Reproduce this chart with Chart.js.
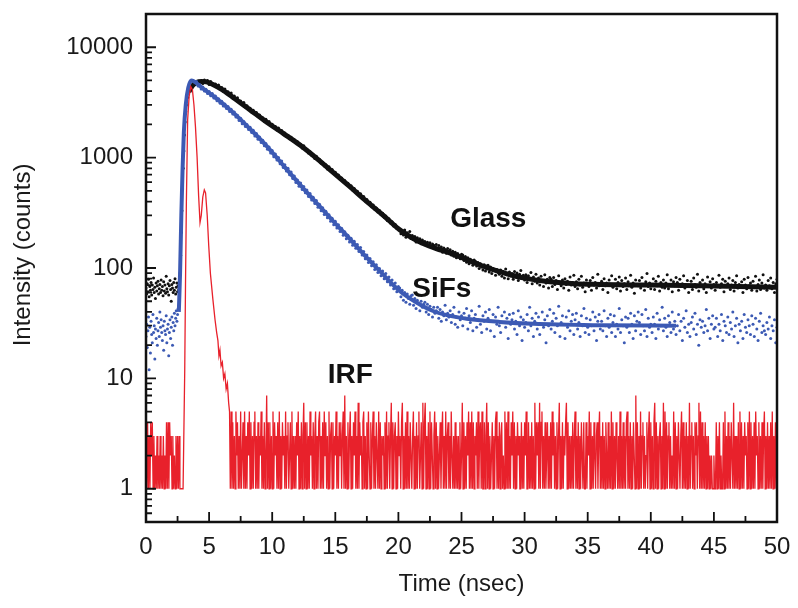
<!DOCTYPE html>
<html lang="en">
<head>
  <meta charset="UTF-8">
  <title>Fluorescence decay: Glass vs SiFs</title>
  <script src="https://cdn.jsdelivr.net/npm/chart.js"></script>
  <style>
    body { margin: 0; background: #fff; }
    canvas { display: block; }
  </style>
</head>
<body>
  <canvas id="decay" width="798" height="608"></canvas>

  <script>
    // ---- data (time in ns, intensity in counts) ----
    const xTickValues = [0, 5, 10, 15, 20, 25, 30, 35, 40, 45, 50];
    const yTickValues = [1, 10, 100, 1000, 10000];

    // IRF: detector channels every 0.0625 ns before and after the pulse
    const irfStep = 0.0625;
    const irfPre = [
      4,1,4,1,3,1,4,2,4,1, 3,1,2,1,3,1,2,1,3,1, 2,1,3,1,2,1, 4,1,4,1,4,2,
      3,1,3,1,2,1,3,1,3,1, 3,1,1,1,1,1
    ];
    const irfPulse = [
      [3.0,1],[3.07,12],[3.13,70],[3.2,400],[3.3,2200],[3.42,3600],[3.55,4400],[3.68,4100],
      [3.8,3000],[3.92,1900],[4.05,1000],[4.17,450],[4.28,258],[4.38,300],[4.5,440],[4.62,510],
      [4.72,480],[4.85,300],[4.97,160],[5.1,90],[5.3,52],[5.47,34],[5.6,26],[5.7,22],[5.78,16],
      [5.86,18],[5.95,13],[6.05,14],[6.15,10],[6.25,11],[6.35,8],[6.45,9],[6.55,6],[6.62,5],[6.68,1]
    ];
    const irfNoiseStart = 6.75;
    const irfNoise = [
      5,1,4,1,3,1,5,2,4,1,3,1,5,1,2,4, 1,5,1,3,1,4,2,5,1,4,1,3,1,4,5,1,
      3,1,4,1,3,2,5,1,3,1,4,1,2,7,1,4, 1,4,1,3,1,5,1,4,2,3,1,4,1,5,1,3,
      1,4,2,3,1,5,1,3,4,1,2,4,1,5,1,3, 1,3,1,4,2,5,1,3,1,4,1,3,6,1,4,1,
      4,1,3,1,5,2,3,1,4,1,3,5,1,3,1,4, 5,1,3,1,4,1,5,2,4,1,3,1,5,1,3,4,
      1,4,1,3,2,5,1,3,1,4,2,4,1,3,5,1, 7,1,3,1,4,1,3,5,1,3,1,4,2,5,1,3,
      1,6,1,4,2,3,1,4,5,1,3,1,4,1,5,2, 1,4,1,3,5,1,3,1,4,2,1,5,1,4,1,3,
      2,3,1,4,1,5,1,3,4,1,3,6,1,4,1,3, 4,1,3,1,5,2,3,1,4,6,1,3,1,4,1,5,
      1,3,1,4,2,1,3,5,1,3,1,4,1,3,5,1, 2,4,1,6,1,4,6,1,3,1,4,1,5,1,4,2,
      1,3,5,1,4,1,3,1,2,4,1,3,5,1,3,1, 5,1,3,4,1,3,1,5,2,1,3,1,4,1,3,1,
      3,1,4,1,2,6,1,4,1,3,1,4,2,5,1,4, 1,5,1,4,1,3,2,4,1,5,1,3,4,1,5,1,
      1,4,1,3,6,1,4,1,3,1,2,4,1,3,1,4, 5,1,3,1,4,1,3,4,1,2,1,5,1,4,1,5,
      1,3,1,4,2,5,1,4,1,3,1,4,2,3,1,1, 4,1,3,1,4,2,5,1,1,4,1,3,1,4,1,3,
      1,6,1,4,2,4,1,6,1,4,5,1,3,1,4,1, 2,4,1,3,1,4,1,5,2,4,1,3,1,4,1,3,
      6,1,3,1,4,1,3,2,4,6,1,4,1,3,1,3, 1,4,1,3,5,1,3,1,4,1,3,1,4,2,1,4,
      1,1,4,1,3,2,5,1,4,1,3,1,4,2,1,3, 4,1,3,5,1,3,1,4,1,3,1,4,2,1,4,1,
      3,1,5,1,4,1,3,1,4,2,1,3,1,5,1,3, 1,4,1,3,1,4,5,1,3,1,4,1,3,1,4,2,
      1,7,1,4,1,3,1,5,1,3,4,1,3,1,2,4, 1,3,5,1,4,1,3,1,4,6,1,4,1,3,1,3,
      4,1,3,1,6,1,5,1,4,1,3,4,1,3,1,2, 1,5,1,4,1,3,1,4,2,1,3,5,1,4,1,3,
      1,4,1,3,1,6,1,3,4,1,3,1,4,2,4,1, 3,6,1,5,1,4,1,3,1,4,1,3,1,3,1,2,
      1,2,1,1,2,1,1,4,1,3,1,4,1,2,1,1, 4,1,5,1,3,1,4,1,3,1,4,2,1,6,1,3,
      1,3,1,4,1,5,1,4,1,3,1,4,2,3,1,4, 1,5,1,4,1,3,1,4,1,5,2,3,1,4,1,3,
      1,4,1,3,5,1,3,1,4,1,3,1,4,1,5,1, 3,1,4,1,3
    ];

    // Glass: measured points and the fitted decay
    const glassPreStep = 0.05;
    const glassPre = [
      66,58,72,61,79,55,68,63,74,57,70,64,81,60,67,53,73,62,69,76,58,65,71,60,78,63,68,
      56,75,62,70,59,84,65,61,72,57,69,77,64,50,71,66,60,74,63,80,58,67,73,61,69,64,75
    ];
    const glassRise = [
      [2.7,90],[2.75,130],[2.8,210],[2.85,330],[2.9,520],[2.95,800],[3.0,1150],[3.05,1600],
      [3.1,2100],[3.15,2600],[3.2,3000],[3.3,3500],[3.4,3950]
    ];
    const glassFit = [
      [3.4,3950],[3.7,4500],[4.0,4800],[4.4,4900],[4.8,4850],[5.3,4600],[6.0,4150],[6.9,3510],
      [8.2,2730],[9.6,2080],[10.9,1650],[12.2,1300],[13.5,990],[14.8,740],[16.2,540],[17.5,400],
      [18.8,300],[20.1,222],[21,190],[22,166],[23,150],[24,138],[25,125],[26,112],[27,101],
      [28,93],[29,86],[30,81],[32,75],[34,72],[36,71],[40,70],[44,69],[47,68],[50,67]
    ];
    const glassMidStart = 4.5, glassMidStep = 0.125;
    const glassMid = [
      4700,5050,4820,5000,4600,4880,4680,4520, 4650,4330,4540,4220,4310,4000,4180,3900,
      3950,3660,3840,3560,3620,3340,3480,3210, 3260,3030,3150,2880,2950,2740,2800,2590,
      2690,2500,2560,2370,2430,2280,2300,2140, 2230,2070,2120,1960,2010,1880,1910,1780,
      1850,1720,1760,1640,1670,1560,1590,1480, 1530,1420,1450,1370,1390,1300,1320,1220,
      1280,1180,1190,1100,1130,1050,1060,980,  1030,950,960,890,910,840,860,790,
      825,765,780,720,735,680,695,640,          655,605,620,575,585,545,555,510,
      525,485,495,460,470,432,445,405,          418,384,395,362,372,340,350,322,
      332,305,314,288,296,270,280,255,          262,240,248,228,232
    ];
    const glassTailStart = 20.1, glassTailStep = 0.1;
    const glassTail = [
      226,204,218,199,221,190,209,196,214,185,  197,181,193,172,188,178,184,166,179,173,
      174,160,171,158,169,153,165,161,150,163,  148,160,144,155,139,152,147,136,150,141,
      146,131,142,128,139,124,135,130,121,133,  131,117,127,113,124,109,120,116,106,118,
      115,104,112,99,109,102,96,107,94,104,     106,92,102,89,99,95,86,97,91,88,
      96,84,93,81,98,87,80,92,85,89,            79,93,84,90,77,88,95,81,86,78,
      87,74,85,79,91,72,83,76,88,73,            81,70,84,76,68,87,73,79,66,82,
      79,68,82,71,77,64,85,72,69,78,            66,80,71,76,63,83,70,74,86,68,
      75,65,79,70,84,67,73,61,78,71,            68,77,63,82,70,74,66,88,69,72,
      76,64,80,69,73,60,78,71,85,67,            70,79,65,74,83,62,77,68,72,81,
      64,75,70,86,67,73,59,78,71,69,            77,66,82,70,63,75,89,68,73,65,
      71,80,64,76,69,84,62,74,67,78,            66,73,87,65,71,78,61,75,69,82,
      74,63,79,68,72,85,66,70,77,60,            69,76,64,81,71,67,88,62,74,70,
      78,65,72,60,83,69,75,66,80,71,            63,74,69,86,67,72,79,61,76,68,
      72,81,64,70,77,62,74,85,66,71,            67,75,60,79,70,65,82,69,73,63,
      76,68,84,62,71,78,64,73,87,66,            70,63,77,69,81,65,74,60,72,79
    ];

    // SiFs: measured points and the fitted decay
    const sifsPreStep = 0.05;
    const sifsPre = [
      24,31,19,27,36,12,29,17,33,25,21,38,26,30,15,28,23,35,20,27,32,24,40,29,34,26,
      22,30,18,33,27,25,37,21,28,31,16,26,34,23,29,36,20,32,27,39,30,35,41,33,38,43
    ];
    const sifsFit = [
      [2.6,40],[2.7,90],[2.8,300],[2.9,800],[3.0,1700],[3.15,3000],[3.35,4300],[3.6,5000],
      [3.75,4950],[4.5,4240],[5.5,3500],[6.9,2565],[8.2,1840],[9.6,1260],[10.9,845],[12.2,570],
      [13.5,390],[14.8,268],[16.2,181],[17.5,124],[18.8,87],[20.1,62],[21.4,49],[22.7,41],
      [24,37],[25.4,34.7],[28,32.5],[30.7,31.2],[36,30.3],[42,30]
    ];
    const sifsMidStart = 4.0, sifsMidStep = 0.125;
    const sifsMid = [
      4880,4450,4600,4190,4370,4010,4160,3800, 3970,3640,3800,3470,3620,3280,3420,3110,
      3240,2930,3060,2780,2900,2620,2740,2480, 2590,2330,2420,2170,2270,2030,2120,1910,
      2000,1800,1880,1690,1770,1570,1650,1470, 1540,1370,1440,1280,1340,1190,1250,1100,
      1160,1020,1080,950,1000,880,930,815,     860,755,800,700,740,648,680,595,
      628,550,588,515,548,480,508,445,         472,412,438,383,408,355,378,330,
      352,306,327,285,304,265,283,247,         265,230,247,214,229,198,213,184,
      198,172,186,161,175,151,163,141,         153,131,141,121,131,112,122,105,
      114,97,107,91,99,85,94,80,               89,75,83,70,78,65,73,61,
      68
    ];
    const sifsTailStart = 20.1, sifsTailStep = 0.1;
    const sifsTail = [
      66,55,63,51,60,49,58,53,47,56,  57,46,53,43,51,48,41,50,44,47,
      49,40,47,38,45,42,36,44,39,41,  44,35,42,33,40,37,46,34,39,36,
      41,32,38,44,31,36,29,40,34,37,  30,39,35,43,28,37,32,41,27,35,
      38,29,34,45,31,26,37,33,40,28,  35,42,27,33,38,24,36,31,44,30,
      26,37,32,40,29,35,23,38,31,34,  39,28,33,25,41,30,36,22,34,29,
      32,38,27,44,30,35,24,33,39,28,  36,25,31,40,29,34,21,37,30,42,
      28,33,39,26,35,30,45,24,32,37,  31,23,36,29,41,27,33,38,25,34,
      39,28,32,24,37,30,43,26,35,29,  25,34,30,40,27,36,22,33,38,28,
      33,27,41,30,24,35,29,38,26,32,  37,24,31,28,43,26,34,30,21,36,
      29,35,26,39,31,23,37,27,33,40,  32,25,38,30,27,42,24,35,29,31,
      26,36,31,23,39,28,34,30,44,27,  35,29,24,37,32,26,40,28,33,25,
      30,38,27,33,22,35,29,41,26,31,  24,32,36,28,39,25,31,20,34,29,
      33,26,30,42,27,35,23,31,37,28,  29,35,24,31,27,38,22,33,30,26,
      36,25,32,28,40,24,30,35,21,31,  27,33,23,38,29,26,34,30,25,37,
      31,24,35,28,22,33,39,26,30,27,  25,32,28,36,23,30,27,34,21,29
    ];

    // curve labels, placed in data coordinates (left edge, baseline)
    const curveLabels = [
      { text: 'Glass', x: 24.1, y: 237 },
      { text: 'SiFs', x: 21.1, y: 55 },
      { text: 'IRF', x: 14.4, y: 9.1 }
    ];
    const yTitle = 'Intensity (counts)';

    // ---- helpers ----
    const channels = (start, step, vals) => vals.map((v, i) => ({ x: start + i * step, y: v }));
    const pairs = (arr) => arr.map(p => ({ x: p[0], y: p[1] }));

    const irfData = [
      ...channels(0, irfStep, irfPre),
      ...pairs(irfPulse),
      ...channels(irfNoiseStart, irfStep, irfNoise)
    ];
    const glassDots = [
      ...channels(0, glassPreStep, glassPre),
      ...pairs(glassRise),
      ...channels(glassMidStart, glassMidStep, glassMid),
      ...channels(glassTailStart, glassTailStep, glassTail)
    ];
    const sifsDots = [
      ...channels(0, sifsPreStep, sifsPre),
      ...channels(sifsMidStart, sifsMidStep, sifsMid),
      ...channels(sifsTailStart, sifsTailStep, sifsTail)
    ];

    const BLACK = '#111111';
    const BLUE = '#3c5ab4';
    const RED = '#e8212b';
    const TEXT = '#1a1a1a';
    const FONT = "'Liberation Sans', Arial, sans-serif";
    const LABEL_SIZE = 24;

    Chart.defaults.font.family = FONT;
    Chart.defaults.color = TEXT;

    // keep tick labels from pushing the plot box around
    function noLabelPadding(scale) {
      scale.paddingTop = 0;
      scale.paddingBottom = 0;
      scale.paddingLeft = 0;
      scale.paddingRight = 0;
    }

    // frame, inward ticks, curve labels and the y title
    const framePlugin = {
      id: 'frame',
      afterDraw(chart) {
        const { ctx, chartArea: a, scales: { x, y } } = chart;
        ctx.save();
        ctx.strokeStyle = BLACK;
        ctx.lineWidth = 2.5;
        ctx.strokeRect(a.left, a.top, a.right - a.left, a.bottom - a.top);

        ctx.lineWidth = 1.8;
        ctx.beginPath();
        for (let i = 0; i < xTickValues.length; i++) {
          const px = x.getPixelForValue(xTickValues[i]);
          ctx.moveTo(px, a.bottom);
          ctx.lineTo(px, a.bottom - 10);
          if (i < xTickValues.length - 1) {
            const mx = x.getPixelForValue((xTickValues[i] + xTickValues[i + 1]) / 2);
            ctx.moveTo(mx, a.bottom);
            ctx.lineTo(mx, a.bottom - 6);
          }
        }
        for (let d = -1; d <= 4; d++) {
          for (let m = 1; m <= 9; m++) {
            const v = m * Math.pow(10, d);
            if (v < y.min || v >= y.max) continue;
            const py = y.getPixelForValue(v);
            ctx.moveTo(a.left, py);
            ctx.lineTo(a.left + (m === 1 ? 10 : 6), py);
          }
        }
        ctx.stroke();

        ctx.fillStyle = BLACK;
        ctx.font = 'bold 28px ' + FONT;
        ctx.textBaseline = 'alphabetic';
        ctx.textAlign = 'left';
        curveLabels.forEach(l => {
          ctx.fillText(l.text, x.getPixelForValue(l.x), y.getPixelForValue(l.y));
        });

        // y title sits a little above the middle of the plot in the original
        ctx.fillStyle = TEXT;
        ctx.font = LABEL_SIZE + 'px ' + FONT;
        ctx.textAlign = 'center';
        ctx.textBaseline = 'middle';
        ctx.translate(23, 255);
        ctx.rotate(-Math.PI / 2);
        ctx.fillText(yTitle, 0, 0);
        ctx.restore();
      }
    };

    const ctx = document.getElementById('decay').getContext('2d');
    new Chart(ctx, {
      type: 'scatter',
      data: {
        datasets: [
          {
            label: 'IRF',
            data: irfData,
            showLine: true,
            borderColor: RED,
            borderWidth: 1.3,
            pointRadius: 0,
            tension: 0
          },
          {
            label: 'SiFs fit',
            data: pairs(sifsFit),
            showLine: true,
            borderColor: BLUE,
            borderWidth: 4,
            pointRadius: 0,
            cubicInterpolationMode: 'monotone'
          },
          {
            label: 'SiFs',
            data: sifsDots,
            backgroundColor: BLUE,
            borderWidth: 0,
            pointRadius: 1.5
          },
          {
            label: 'Glass fit',
            data: pairs(glassFit),
            showLine: true,
            borderColor: BLACK,
            borderWidth: 5,
            pointRadius: 0,
            cubicInterpolationMode: 'monotone'
          },
          {
            label: 'Glass',
            data: glassDots,
            backgroundColor: BLACK,
            borderWidth: 0,
            pointRadius: 1.5
          }
        ]
      },
      options: {
        responsive: false,
        animation: false,
        layout: { padding: { left: 0, right: 21, top: 14, bottom: 0 } },
        plugins: {
          legend: { display: false },
          tooltip: { enabled: false }
        },
        scales: {
          x: {
            type: 'linear',
            min: 0,
            max: 50,
            grid: { display: false, drawTicks: false },
            border: { display: false },
            ticks: {
              stepSize: 5,
              maxRotation: 0,
              autoSkip: false,
              padding: 11,
              font: { size: LABEL_SIZE },
              callback: v => String(v)
            },
            title: {
              display: true,
              text: 'Time (nsec)',
              font: { size: LABEL_SIZE },
              padding: { top: 0, bottom: 9 }
            },
            afterFit(scale) { scale.height = 86; noLabelPadding(scale); }
          },
          y: {
            type: 'logarithmic',
            min: 0.5,
            max: 20000,
            grid: { display: false, drawTicks: false },
            border: { display: false },
            afterBuildTicks(scale) {
              scale.ticks = yTickValues.map(v => ({ value: v }));
            },
            ticks: {
              autoSkip: false,
              padding: 13,
              font: { size: LABEL_SIZE },
              callback: v => String(v)
            },
            afterFit(scale) { scale.width = 146; noLabelPadding(scale); }
          }
        }
      },
      plugins: [framePlugin]
    });
  </script>
</body>
</html>
